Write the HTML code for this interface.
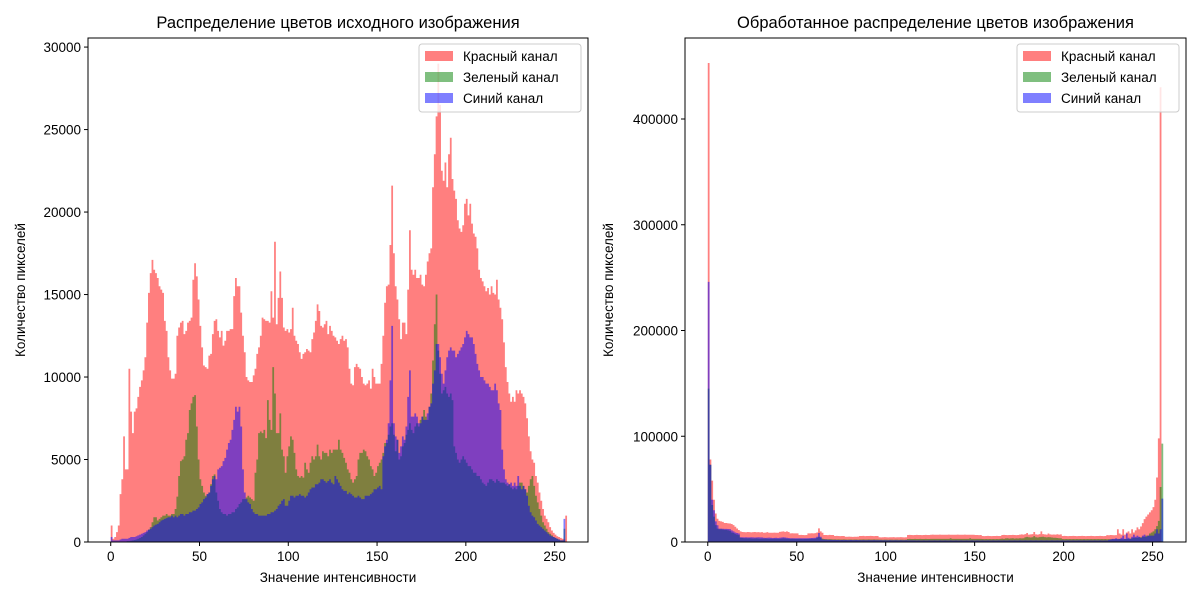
<!DOCTYPE html>
<html><head><meta charset="utf-8"><style>
body{margin:0;background:#fff;}
svg{font-family:"Liberation Sans","DejaVu Sans",sans-serif;}
</style></head><body>
<svg id="chart" width="1200" height="600" viewBox="0 0 1200 600" xmlns="http://www.w3.org/2000/svg">
<rect width="1200" height="600" fill="#fff"/>
<g id="left"></g>
<g id="right"></g>
</svg>
<script>
// values in thousands of pixels, bins 0..255
const L_RED = [1,0.2,0.3,0.6,1,2.9,3.8,6.4,4.4,4.4,10.5,7.9,6.6,7.9,8.1,8.8,9.4,9.8,10.4,11.2,13.3,15.1,16.3,17.1,16.5,16.3,16,15.5,15.3,15.1,13.4,12.8,11.2,10.4,9.9,9.9,10.2,12.5,13,13.3,13.4,12.6,12.8,13.3,13.4,13.6,15.9,16.9,16.1,14.7,13.1,11.8,10.7,10.6,10.5,11.3,11.4,12.6,13.4,13.5,12.8,12.4,12.8,11.9,12.2,12.8,12.8,12.9,12.9,14.9,16,15.5,15.5,13.9,12.5,11.5,10,9.8,9.7,9.7,10.1,10.5,11.4,11.8,12.5,13.6,13.5,13.4,13.4,13.3,15.2,13.6,18.2,13.2,14.8,16.4,14.8,13,12.8,12.9,12.7,12.9,14.2,12.5,12.2,12,11.5,11.1,11.4,11.5,11.7,11.6,11.5,12.3,12.7,13.4,14.4,14,13.1,13,13.2,13.4,12.6,13.1,12.8,12.5,12.4,12.2,12,12.3,12.5,12.2,12.3,11.8,10.5,9.6,9.5,10.6,10.8,10.6,10.5,10,9.6,9.5,9.6,9.8,9.3,10.5,10,9.6,9.6,9.6,10.8,12.5,14.5,15.5,15.6,18,21.6,17.5,15.5,14.7,13.5,12.3,13.3,13.3,12.6,15.3,18.9,16.5,16.2,16.5,16,16,16.2,15.6,15.5,16.2,17,17.5,17.8,21.5,23.5,25.8,29,26.5,22.5,21.9,23,21.5,23.5,24.5,22,21.3,20.8,19.5,19,18.8,19.2,20.5,20.8,19.8,20.5,19.3,18.7,18.5,17.8,16.5,16,15.8,15.5,15.2,15.4,15,15.5,15.1,15,15.9,14.7,14.2,13.5,12.1,10.6,9.7,9,8.5,8.8,8.5,9.2,9,9.2,9,8.8,8.4,7.5,6.4,5.5,5,4.8,4,3.6,3,2.5,2,1.6,1.4,1.2,0.9,0.7,0.55,0.45,0.35,0.3,0.25,0.2,0.15,1.6];
const L_GREEN = [0,0,0,0,0,0,0,0.02,0.03,0.05,0.05,0.08,0.1,0.12,0.15,0.2,0.25,0.3,0.4,0.5,0.6,0.75,0.9,1.2,1.5,1.5,1.3,1.4,1.5,1.6,1.6,1.7,1.6,1.6,1.7,1.7,2,2.75,4,4.9,5,5.2,6.2,6.6,8,8.4,8.8,8.9,7,5,3.8,3.4,3,2.8,2.9,3,3.5,4,4.1,3,2.5,2,1.8,1.7,1.7,1.6,1.7,1.7,1.8,1.8,2,2.1,2.3,2.4,2.6,2.6,2.7,2.8,2.7,2.6,2.5,4.2,5,6.6,6.7,6.6,6.8,6.3,8.6,7.4,6.8,10.6,9,6.6,6.6,7.8,5.6,5.2,4.2,5.2,5.8,6.4,6.2,5.4,4.4,4,3.9,4,3.9,4.8,4.4,4.2,4.8,5.2,5,5.2,5.9,5.2,5,5.5,5.4,5.4,5.2,5.6,5.4,5.6,5.6,5.6,6.2,5.6,5.4,5.1,4.8,4.4,4.2,3.8,3.6,3.8,4,5,5.4,5.4,5.6,5.5,5.2,5,4.6,4.4,4,4.2,4.6,4.8,5,5.4,6,6,6.5,7,7.2,6.5,5.5,6.2,5,5.2,5.8,6,6.5,6.8,7.2,6.8,6.6,7,7.2,7,7.4,7.6,8,7.6,7.4,8.2,9,11,13.2,15,11.6,10.2,9,9.2,9.4,9,8.8,9,8.6,5.8,5.4,5,4.8,5,5.2,5,4.8,4.6,4.6,4.4,4.2,4.2,4,4,3.8,3.6,3.5,3.4,3.6,3.8,3.8,3.7,3.6,3.8,3.7,3.6,3.6,3.6,3.5,3.4,3.5,3.3,3.2,3.3,3.2,3.4,3.6,3.6,3.4,3.2,3,3.4,3.8,4,3.4,2.8,2.4,2,1.6,1.2,1,0.8,0.6,0.5,0.4,0.3,0.25,0.2,0.15,0.1,0.1,0.8];
const L_BLUE = [0.3,0.1,0.1,0.1,0.1,0.15,0.2,0.2,0.2,0.2,0.25,0.3,0.3,0.3,0.35,0.4,0.45,0.5,0.55,0.6,0.7,0.75,0.8,0.9,1,1.05,1.1,1.2,1.3,1.35,1.4,1.45,1.5,1.5,1.6,1.5,1.6,1.5,1.6,1.7,1.7,1.6,1.7,1.7,1.8,1.8,1.9,1.9,2,2.1,2.3,2.4,2.6,2.7,2.9,3,3.4,3.8,4,3.8,4.4,4.5,4.6,4.9,5.1,5.6,6,6.2,6.8,7.4,8.2,7.9,8.2,7,4.4,3,2.6,2.4,2.3,2,1.8,1.7,1.7,1.6,1.6,1.6,1.6,1.6,1.7,1.7,1.8,1.8,1.9,2,2.2,2.3,2.5,2.6,2.2,2.2,2.5,2.8,2.8,2.7,2.8,2.8,2.9,2.8,2.8,2.7,2.8,3,3.2,3.3,3.3,3.5,3.5,3.6,3.8,3.8,3.7,3.6,3.7,3.8,3.6,3.5,4,3.8,3.6,3.4,3.2,3.1,3.1,2.9,3,2.9,2.8,2.7,2.7,2.8,2.7,2.6,2.6,2.8,2.8,2.8,2.9,3,3.2,3.2,3.3,3.4,3.2,5.2,5.8,6.2,7.2,9.8,13.1,7.2,6.4,6.2,5.4,5.8,6.4,6.2,7,8.8,10.4,7.6,7.6,7.8,7.6,7.2,7.2,7.6,7.4,7.4,7.8,8.2,8.4,9.6,10.4,12,12,11.2,10.2,9.6,10.4,11.2,11.6,11.8,11.6,11.6,11.2,11.4,11.6,11.8,12,12.4,12.8,12.6,12.4,12.4,12,11.4,10.8,10.4,10,10,9.8,9.6,9.6,9.4,9.2,9.2,9.6,9.2,8.4,8,5.6,4.4,3.8,3.6,3.5,3.6,3.4,3.6,3.4,4,3.4,3.2,3.4,3.2,2.8,2.2,1.8,1.6,1.5,1.3,1.1,1,0.9,0.8,0.7,0.6,0.5,0.4,0.35,0.3,0.25,0.2,0.15,0.1,0.1,1.4];

const R_RED = [453,78,58,40,27,22,20,19.5,19,18,18,17.6,17.5,17,16,14.4,12.8,11.3,10,9.4,9.3,9.2,9.4,9.3,9.1,9.3,9.4,9.2,9.3,9.1,9.3,8.8,8.9,9.3,8.8,8.7,8.8,8.9,8.8,8.7,9.6,9.8,10,9.6,10,9.5,8.2,8.3,8.2,8.1,8.2,6.6,6.7,6.6,6.5,6.6,8.2,8.1,8.3,8.2,8.4,9,12.9,10,8.8,6.6,6.6,6.5,6.7,6.6,6.6,5.7,5.8,5.7,5.6,5.7,5.7,5,5,5.1,5,4.9,5,5,5.1,5.7,5.7,5.8,5.6,5.7,5.7,5.8,5.7,5.6,5.7,5.7,4.5,4.4,4.5,4.6,4.5,4.4,4.5,4.5,4.6,4.4,4.5,4.5,4.6,4.5,4.4,4.5,6.6,6.7,6.6,6.5,6.6,6.7,6.6,6.6,6.5,6.6,6.7,6.6,6.6,6.9,7,6.9,6.8,6.9,7,6.9,6.9,6.8,6.9,7,6.9,6.8,6.9,6.9,7,6.9,6.8,6.9,7,6.9,6.9,6.8,6.9,6.9,6.6,6.6,6.5,6.6,5.7,5.6,5.7,5.8,5.7,5.6,5.7,5.7,5.8,5.7,5.7,6.6,6.7,6.6,6.5,6.6,6.6,6.7,6.6,6.5,6.6,7,7.2,7,7.4,8.5,7,7.2,7.5,9.5,7.2,7,7.4,10,7.5,7.2,7,8,7.2,7,7.1,7,7.3,7,7.2,5.7,5.8,5.7,5.6,5.7,5.7,5.8,5.7,5.6,5.7,5.7,5.8,5.7,5.6,5.7,5.7,5.8,5.7,5.6,5.7,5.7,5.8,5.7,5.6,5.7,6.5,6.4,6.6,6.5,6.4,6.5,12,8,7,12,7,9,10,8,12,9,11,13.8,12,14.7,17.9,21.6,24,26,28,30,33,40,61,98,430];
const R_GREEN = [
145,73,35,24,16,12.6,12,12,11.8,11.5,
11.5,11,10.5,9,8.5,7.5,7,6.5,4,3.8,
3.6,3.5,3.4,3.5,3.3,3.2,3.3,3.4,3.2,3.1,
3.2,3.2,3.3,3.1,3,3.1,3,3.2,3.1,3,
3,3.2,3.4,3.3,3.1,3,3,3.1,2.9,2.8,
2.8,2.9,2.8,2.7,2.8,2.8,2.9,3,3.1,3,
3.2,4,5,4,3.2,2.8,2.7,2.6,2.7,2.6,
2.5,2.5,2.4,2.5,2.4,2.4,2.5,2.4,2.3,2.4,
2.4,2.3,2.4,2.4,2.3,2.4,2.4,2.5,2.4,2.4,
2.5,2.4,2.4,2.5,2.4,2.4,2.2,2.2,2.1,2.2,
2.2,2.1,2.2,2.2,2.1,2.2,2.2,2.1,2.2,2.2,
2.1,2.2,2.8,2.9,2.8,2.8,2.9,2.8,2.8,2.9,
2.8,2.8,2.9,2.8,2.8,2.9,3,2.9,2.9,3,
2.9,2.9,3,2.9,2.9,3,3.5,2.9,3,2.9,
2.9,3,2.9,2.9,3,2.9,3,3.5,3,3,
2.9,3,3,2.9,2.8,2.7,2.8,2.7,2.8,2.7,
2.8,2.7,2.8,2.7,3,3.2,3,3.4,3.5,3.2,
3.4,3.5,3.2,3.4,3.3,3.5,3.4,3.6,4.5,4.8,
4.5,4.2,4.5,5.5,4.5,4.2,4.6,4.8,5,4.6,
4.4,4.6,4.5,4.2,4,4,3.8,3.6,3.5,2.8,
2.7,2.8,2.7,2.8,2.7,2.8,2.7,2.8,2.7,2.8,
2.7,2.8,2.7,2.8,2.7,2.8,2.7,2.8,2.7,2.8,
2.7,2.8,2.7,2.8,2.6,2.7,2.6,2.7,2.6,2.7,
2.6,2.8,2.7,2.6,2.8,2.8,3,3.2,3.5,4,
4,4,4.5,4.5,5,5,6,6,8,9,
10,12,15,20,52,93];
const R_BLUE = [
246,73,40,30,19.5,15.8,12.6,12.6,12.5,12.4,
12.4,12.3,12.2,11,10,9,8.5,8,4.5,4.5,
4.4,4.5,4.4,4.4,4.5,4.4,4.3,4.4,4.5,4.4,
4.4,4,3.9,4,4.1,4,3.8,3.9,4,3.8,
4,4.2,4.5,4.2,4,3.8,3.6,3.6,3.5,3.6,
3.5,3.6,3.5,3.6,3.5,3.6,3.6,3.7,3.8,3.9,
4,5,8.5,5,2.5,2.3,2.2,2.1,2,2,
1.9,2,1.9,1.9,1.8,1.9,1.8,1.9,1.8,1.8,
1.9,1.8,1.8,1.9,1.8,1.8,1.7,1.8,1.7,1.7,
1.8,1.7,1.7,1.8,1.7,1.6,1.6,1.6,1.5,1.6,
1.5,1.5,1.6,1.5,1.5,1.6,1.5,1.5,1.6,1.5,
1.5,1.6,1.5,1.5,1.5,1.5,1.5,1.4,1.5,1.4,
1.4,1.5,1.4,1.4,1.5,1.4,1.4,1.5,1.4,1.4,
1.5,1.4,1.4,1.5,1.4,1.4,1.5,1.4,1.4,1.5,
1.4,1.4,1.5,1.4,1.4,1.5,1.4,1.4,1.5,1.4,
1.4,1.5,1.4,1.4,1.5,1.4,1.4,1.5,1.4,1.4,
1.5,1.4,1.4,1.5,1.4,1.4,1.5,1.4,1.4,1.5,
1.4,1.4,1.5,1.4,1.4,1.5,1.4,1.4,1.5,1.4,
1.4,1.5,1.4,1.4,1.5,1.4,1.4,1.5,1.4,1.4,
1.5,1.4,1.4,1.5,1.4,1.4,1.5,1.4,1.4,1.5,
1.4,1.4,1.5,1.4,1.4,1.5,1.4,1.4,1.5,1.4,
1.4,1.5,1.4,1.4,1.5,1.4,1.4,1.5,1.4,1.4,
1.5,1.4,1.4,1.5,1.4,2,2.5,3,3,3.5,
3,3,4,6,3,8,4,3,5,7,
5,6,5,4,6,7,5,6,6,6,
6,8,12,8,12,41];

const L_YTICKS = [0,5000,10000,15000,20000,25000,30000];
const R_YTICKS = [0,100000,200000,300000,400000];
const XTICKS = [0,50,100,150,200,250];
const LEGEND_LABELS = ["Красный канал","Зеленый канал","Синий канал"];
const COLORS = ["#ff0000","#008000","#0000ff"];

const NS = "http://www.w3.org/2000/svg";
function mk(tag, attrs, parent){ const e=document.createElementNS(NS,tag); for(const k in attrs) e.setAttribute(k,attrs[k]); parent.appendChild(e); return e; }

function panel(g, x0, x1, y0, y1, ymax, series, yticks, title, key){
  const xs = v => x0 + (v + 12.8) / 281.6 * (x1 - x0);
  const ys = v => y1 - v / ymax * (y1 - y0);
  const names=['red','green','blue'];
  series.forEach((arr, si) => {
    let d = "M" + xs(0) + "," + ys(0);
    arr.forEach((v, i) => { const val=v*1000; d += " L" + xs(i) + "," + ys(val) + " L" + xs(i+1) + "," + ys(val); });
    d += " L" + xs(arr.length) + "," + ys(0) + " Z";
    const p = mk('path', {d: d, fill: COLORS[si], 'fill-opacity': 0.5}, g);
    
    
  });
  const frame = mk('rect', {x:x0, y:y0, width:x1-x0, height:y1-y0, fill:'none', stroke:'#000', 'stroke-width':1}, g);
  
  
  XTICKS.forEach(t => {
    const x = xs(t);
    mk('line', {x1:x, x2:x, y1:y1, y2:y1+4, stroke:'#000'}, g);
    const tx = mk('text', {x:x, y:y1+19, 'font-size':13.5, 'text-anchor':'middle'}, g);
    tx.textContent = t;
    
    
  });
  yticks.forEach(t => {
    const y = ys(t);
    mk('line', {x1:x0-4, x2:x0, y1:y, y2:y, stroke:'#000'}, g);
    const tx = mk('text', {x:x0-7, y:y+5, 'font-size':13.5, 'text-anchor':'end'}, g);
    tx.textContent = t;
    
    
  });
  const tt = mk('text', {x:(x0+x1)/2, y:29, 'font-size':16.5, 'text-anchor':'middle'}, g);
  tt.setAttribute('y', 28);
  tt.textContent = title;
  
  
  const xl = mk('text', {x:(x0+x1)/2, y:582, 'font-size':13.5, 'text-anchor':'middle'}, g);
  xl.textContent = "Значение интенсивности";
  
  
  const ylx = key==='left' ? 25 : 613;
  const yl = mk('text', {x:ylx, y:290, 'font-size':13.5, 'text-anchor':'middle', transform:'rotate(-90 '+ylx+' 290)'}, g);
  yl.textContent = "Количество пикселей";
  
  
  const lx = x1 - 169, ly = y0 + 6;
  const lg = mk('g', {}, g);
  
  
  mk('rect', {x:lx, y:ly, width:162, height:68, rx:3, fill:'#fff', 'fill-opacity':0.8, stroke:'#ccc'}, lg);
  LEGEND_LABELS.forEach((lab, i) => {
    const r = mk('rect', {x:lx+6, y:ly+7+i*21, width:28, height:10, fill:COLORS[i], 'fill-opacity':0.5}, lg);
    
    
    const t = mk('text', {x:lx+44, y:ly+17+i*21, 'font-size':13.5}, lg);
    t.textContent = lab;
    
    
  });
}
panel(document.getElementById('left'), 88, 588, 38, 542, 30550, [L_RED, L_GREEN, L_BLUE], L_YTICKS, "Распределение цветов исходного изображения", 'left');
panel(document.getElementById('right'), 685, 1186, 38, 542, 476600, [R_RED, R_GREEN, R_BLUE], R_YTICKS, "Обработанное распределение цветов изображения", 'right');
</script>
</body></html>
